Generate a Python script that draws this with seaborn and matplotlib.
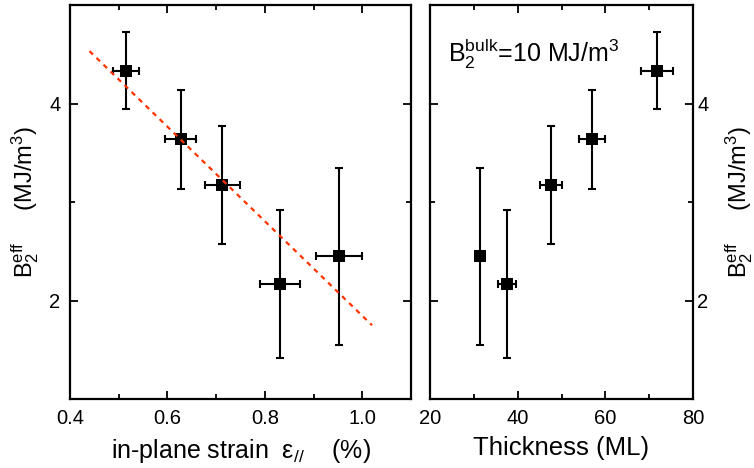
import numpy as np
import pandas as pd
import matplotlib
matplotlib.use("Agg")
import matplotlib.pyplot as plt
from matplotlib.ticker import MultipleLocator
import seaborn as sns

# values (same samples in both panels)
thickness = [31.4, 37.6, 47.6, 56.9, 71.8]
thickness_err = [1.0, 2.0, 2.5, 3.0, 3.7]
strain = [0.952, 0.831, 0.713, 0.627, 0.515]
strain_err = [0.048, 0.041, 0.036, 0.031, 0.026]
b2_eff = [2.45, 2.17, 3.17, 3.635, 4.335]
b2_err = [0.9, 0.75, 0.6, 0.5, 0.39]
fit_range = [0.44, 1.02]

df = pd.DataFrame({'thick': thickness, 'thick_err': thickness_err,
                   'strain': strain, 'strain_err': strain_err,
                   'b2': b2_eff, 'b2_err': b2_err})

sns.set_style("ticks")
plt.rcParams['font.family'] = ['Liberation Sans', 'DejaVu Sans']
plt.rcParams['mathtext.fontset'] = 'custom'
plt.rcParams['mathtext.rm'] = 'Liberation Sans'
plt.rcParams['mathtext.it'] = 'Liberation Sans:italic'
plt.rcParams['mathtext.bf'] = 'Liberation Sans:bold'
for key in ['text.color', 'axes.labelcolor', 'xtick.color', 'ytick.color', 'axes.edgecolor']:
    plt.rcParams[key] = 'black'

fig = plt.figure(figsize=(7.54, 4.68), dpi=100)
ax1 = fig.add_axes([70/754, 69/468, 341/754, 394/468])
ax2 = fig.add_axes([430/754, 69/468, 263/754, 394/468])

ylab = r'$\mathrm{B_2^{eff}}$     (MJ/m$^3$)'
lab_fs = 17

# left panel: vs strain
ax1.errorbar(df['strain'], df['b2'], xerr=df['strain_err'], yerr=df['b2_err'],
             fmt='none', ecolor='black', elinewidth=1.5, capsize=3.2, capthick=1.5, zorder=2)
sns.scatterplot(data=df, x='strain', y='b2', marker='s', s=80, color='black',
                edgecolor='black', linewidth=0, ax=ax1, zorder=3)
# linear fit
k, b = np.polyfit(strain, b2_eff, 1)
fx = np.array(fit_range)
sns.lineplot(x=fx, y=k * fx + b, color='#ff3300', linewidth=1.6,
             linestyle=(0, (2.2, 2.2)), ax=ax1, zorder=4)

ax1.set_xlim(0.4, 1.1)
ax1.xaxis.set_major_locator(MultipleLocator(0.2))
ax1.xaxis.set_minor_locator(MultipleLocator(0.1))
ax1.set_xlabel(r'in-plane strain  $\mathrm{ε_{//}}$    (%)', fontsize=18, labelpad=7)
ax1.set_ylabel(ylab, fontsize=lab_fs, labelpad=6)

# right panel: vs thickness
ax2.errorbar(df['thick'], df['b2'], xerr=df['thick_err'], yerr=df['b2_err'],
             fmt='none', ecolor='black', elinewidth=1.5, capsize=3.2, capthick=1.5, zorder=2)
sns.scatterplot(data=df, x='thick', y='b2', marker='s', s=80, color='black',
                edgecolor='black', linewidth=0, ax=ax2, zorder=3)
ax2.set_xlim(20, 80)
ax2.xaxis.set_major_locator(MultipleLocator(20))
ax2.xaxis.set_minor_locator(MultipleLocator(10))
ax2.set_xlabel('Thickness (ML)', fontsize=18.5, labelpad=6)
ax2.yaxis.set_label_position('right')
ax2.set_ylabel(ylab, fontsize=lab_fs, labelpad=11)
ax2.text(0.068, 0.855, r'$\mathrm{B_2^{bulk}}$=10 MJ/m$^3$', transform=ax2.transAxes,
         fontsize=18, va='baseline', ha='left')

for ax in (ax1, ax2):
    ax.set_ylim(1, 5)
    ax.yaxis.set_major_locator(MultipleLocator(2))
    ax.yaxis.set_minor_locator(MultipleLocator(1))
    ax.tick_params(which='both', direction='in', top=True, right=True,
                   width=1.3, labelsize=14.5, pad=7)
    ax.tick_params(which='major', length=6)
    ax.tick_params(which='minor', length=3.5)
    for sp in ax.spines.values():
        sp.set_linewidth(1.6)
        sp.set_color('black')
        sp.set_visible(True)

ax2.tick_params(axis='y', labelleft=False, labelright=True, pad=3)

fig.savefig('out.png', dpi=100)
